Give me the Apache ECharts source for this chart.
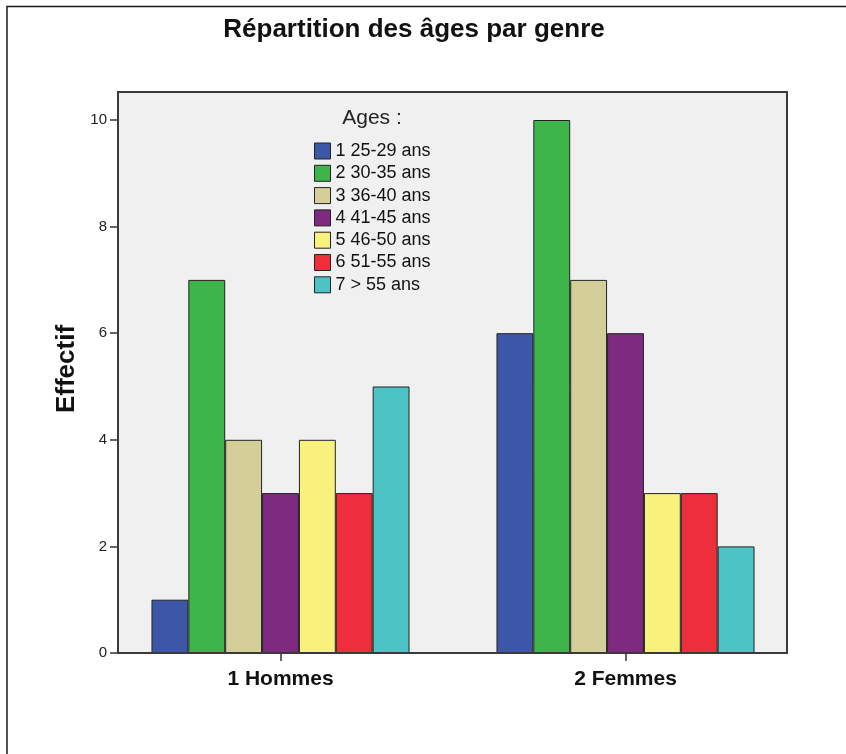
<!DOCTYPE html>
<html>
<head>
<meta charset="utf-8">
<script src="https://cdn.jsdelivr.net/npm/echarts@6/dist/echarts.min.js"></script>
<style>html,body{margin:0;padding:0;background:#fff}#c{width:846px;height:754px}</style>
</head>
<body>
<div id="c"></div>
<script>
const categories = ['1 Hommes', '2 Femmes'];
const seriesNames = ['1 25-29 ans', '2 30-35 ans', '3 36-40 ans', '4 41-45 ans', '5 46-50 ans', '6 51-55 ans', '7 > 55 ans'];
const ages1 = [1, 6];
const ages2 = [7, 10];
const ages3 = [4, 7];
const ages4 = [3, 6];
const ages5 = [4, 3];
const ages6 = [3, 3];
const ages7 = [5, 2];
const seriesValues = [ages1, ages2, ages3, ages4, ages5, ages6, ages7];
const colors = ['#3d57a8', '#3db54a', '#d4cf98', '#7d2a80', '#f8f17c', '#ee2f3b', '#4cc3c5'];
const yTicks = [0, 2, 4, 6, 8, 10];

const chart = echarts.init(document.getElementById('c'));
const FONT = '"Liberation Sans", Arial, sans-serif';
chart.setOption({
  animation: false,
  backgroundColor: '#ffffff',
  title: {
    text: 'Répartition des âges par genre',
    left: 409, textAlign: 'center', top: 12,
    textStyle: { fontFamily: FONT, fontSize: 26, fontWeight: 'bold', color: '#111' }
  },
  legend: {
    orient: 'vertical',
    left: 314, top: 142, padding: 0,
    itemWidth: 16, itemHeight: 16, itemGap: 4.3,
    icon: 'rect',
    itemStyle: { borderColor: '#222', borderWidth: 1 },
    textStyle: { fontFamily: FONT, fontSize: 18, color: '#111', padding: [0, 0, 0, 0] },
    data: seriesNames
  },
  grid: { left: 108, right: 48, top: 120, bottom: 101 },
  xAxis: {
    type: 'category',
    data: categories,
    axisLine: { show: false },
    axisTick: { show: true, alignWithLabel: true, length: 8, lineStyle: { color: '#333', width: 1.5 } },
    axisLabel: { margin: 16, fontFamily: FONT, fontSize: 21, fontWeight: 'bold', color: '#111' }
  },
  yAxis: {
    type: 'value', min: 0, max: 10, interval: 2,
    offset: -10,
    splitLine: { show: false },
    axisLine: { show: false },
    axisTick: { show: true, length: 8, lineStyle: { color: '#333', width: 1.5 } },
    axisLabel: { margin: 11, fontFamily: FONT, fontSize: 15, color: '#222',
      formatter: v => yTicks.includes(v) ? String(v) : '' }
  },
  graphic: [
    { type: 'polyline', z: 10, shape: { points: [[7, 754], [7, 6.5], [846, 6.5]] }, style: { stroke: '#1a1a1a', lineWidth: 1.5, fill: null } },
    { type: 'rect', z: -10, shape: { x: 118, y: 92, width: 669, height: 561 }, style: { fill: '#eff0ef', stroke: null } },
    { type: 'rect', z: 100, silent: true, shape: { x: 118, y: 92, width: 669, height: 561 }, style: { fill: null, stroke: '#3a3a3a', lineWidth: 2 } },
    { type: 'text', z: 10, x: 372, y: 118, style: { text: 'Ages :', font: '21px ' + FONT, fill: '#222', align: 'center', verticalAlign: 'middle' } },
    { type: 'text', z: 10, x: 67, y: 369, rotation: Math.PI / 2, style: { text: 'Effectif', font: 'bold 26px ' + FONT, fill: '#111', align: 'center', verticalAlign: 'middle' } }
  ],
  series: seriesValues.map((vals, i) => ({
    type: 'bar',
    name: seriesNames[i],
    data: vals,
    barGap: '0%',
    barCategoryGap: '25.2%',
    itemStyle: { color: colors[i], borderColor: '#222', borderWidth: 1 }
  }))
});
</script>
</body>
</html>
